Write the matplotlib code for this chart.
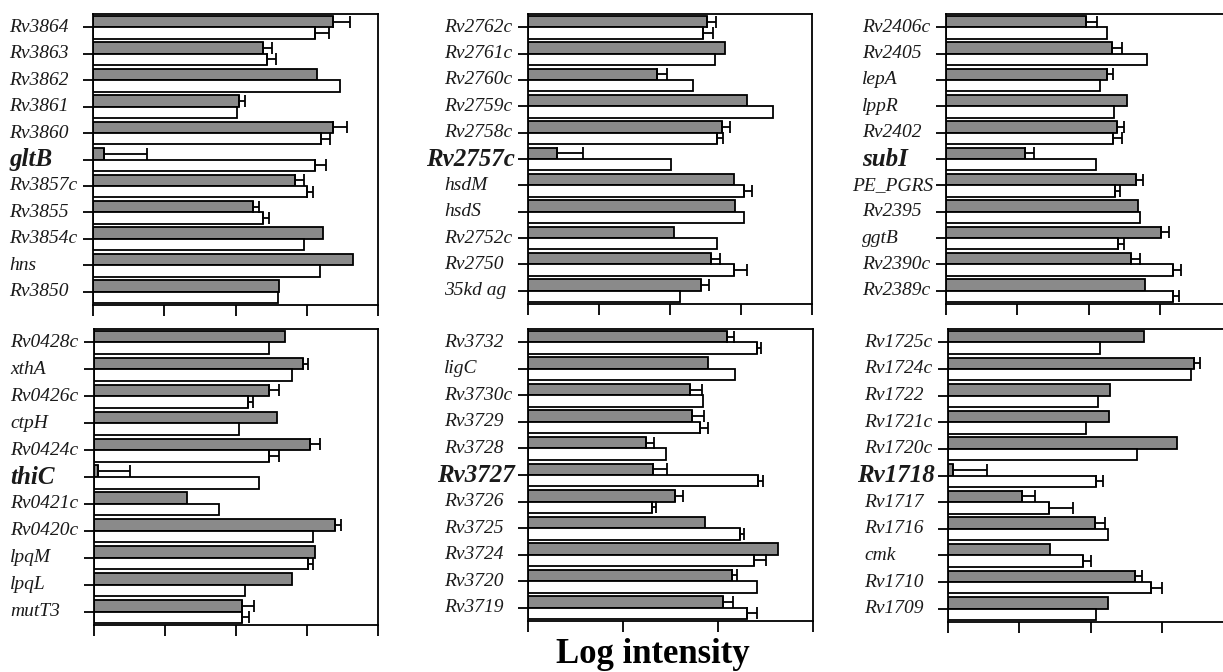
import numpy as np
import matplotlib
matplotlib.use('Agg')
import matplotlib.pyplot as plt
from matplotlib.transforms import offset_copy

# values in units of the x tick spacing
genes_1 = ['Rv3864', 'Rv3863', 'Rv3862', 'Rv3861', 'Rv3860', 'gltB',
           'Rv3857c', 'Rv3855', 'Rv3854c', 'hns', 'Rv3850']
gray_1 = [3.37, 2.38, 3.15, 2.05, 3.37, 0.16, 2.83, 2.25, 3.23, 3.65, 2.61]
gray_err_1 = [0.23, 0.13, 0, 0.08, 0.19, 0.60, 0.13, 0.08, 0, 0, 0]
white_1 = [3.11, 2.44, 3.46, 2.02, 3.20, 3.12, 3.01, 2.39, 2.96, 3.18, 2.60]
white_err_1 = [0.20, 0.13, 0, 0, 0.12, 0.15, 0.08, 0.08, 0, 0, 0]

genes_2 = ['Rv2762c', 'Rv2761c', 'Rv2760c', 'Rv2759c', 'Rv2758c', 'Rv2757c',
           'hsdM', 'hsdS', 'Rv2752c', 'Rv2750', '35kd ag']
gray_2 = [2.52, 2.78, 1.82, 3.08, 2.73, 0.41, 2.90, 2.92, 2.05, 2.58, 2.43]
gray_err_2 = [0.13, 0, 0.14, 0, 0.11, 0.36, 0, 0, 0, 0.13, 0.12]
white_2 = [2.47, 2.63, 2.33, 3.45, 2.66, 2.01, 3.04, 3.04, 2.66, 2.90, 2.14]
white_err_2 = [0.13, 0, 0, 0, 0.08, 0, 0.11, 0, 0, 0.18, 0]

genes_3 = ['Rv2406c', 'Rv2405', 'lepA', 'lppR', 'Rv2402', 'subI',
           'PE_PGRS', 'Rv2395', 'ggtB', 'Rv2390c', 'Rv2389c']
gray_3 = [1.96, 2.33, 2.26, 2.54, 2.40, 1.11, 2.66, 2.69, 3.02, 2.59, 2.79]
gray_err_3 = [0.16, 0.14, 0.08, 0, 0.10, 0.12, 0.11, 0, 0.11, 0.13, 0]
white_3 = [2.26, 2.82, 2.16, 2.36, 2.35, 2.10, 2.37, 2.72, 2.41, 3.18, 3.19]
white_err_3 = [0, 0, 0, 0, 0.12, 0, 0.07, 0, 0.09, 0.12, 0.08]

genes_4 = ['Rv0428c', 'xthA', 'Rv0426c', 'ctpH', 'Rv0424c', 'thiC',
           'Rv0421c', 'Rv0420c', 'lpqM', 'lpqL', 'mutT3']
gray_4 = [2.69, 2.94, 2.46, 2.58, 3.04, 0.06, 1.31, 3.40, 3.11, 2.79, 2.08]
gray_err_4 = [0, 0.07, 0.15, 0, 0.14, 0.45, 0, 0.08, 0, 0, 0.18]
white_4 = [2.47, 2.79, 2.17, 2.04, 2.46, 2.33, 1.76, 3.09, 3.01, 2.13, 2.08]
white_err_4 = [0, 0, 0.07, 0, 0.14, 0, 0, 0, 0.08, 0, 0.10]

genes_5 = ['Rv3732', 'ligC', 'Rv3730c', 'Rv3729', 'Rv3728', 'Rv3727',
           'Rv3726', 'Rv3725', 'Rv3724', 'Rv3720', 'Rv3719']
gray_5 = [2.09, 1.89, 1.71, 1.73, 1.24, 1.32, 1.55, 1.86, 2.63, 2.15, 2.05]
gray_err_5 = [0.08, 0, 0.12, 0.12, 0.09, 0.14, 0.08, 0, 0, 0.05, 0.11]
white_5 = [2.41, 2.18, 1.84, 1.81, 1.45, 2.42, 1.30, 2.23, 2.38, 2.41, 2.30]
white_err_5 = [0.04, 0, 0, 0.08, 0, 0.05, 0.05, 0.04, 0.12, 0, 0.11]

genes_6 = ['Rv1725c', 'Rv1724c', 'Rv1722', 'Rv1721c', 'Rv1720c', 'Rv1718',
           'Rv1717', 'Rv1716', 'cmk', 'Rv1710', 'Rv1709']
gray_6 = [2.75, 3.45, 2.27, 2.26, 3.22, 0.07, 1.04, 2.06, 1.43, 2.63, 2.24]
gray_err_6 = [0, 0.08, 0, 0, 0, 0.48, 0.18, 0.14, 0, 0.09, 0]
white_6 = [2.14, 3.41, 2.10, 1.93, 2.65, 2.08, 1.42, 2.24, 1.89, 2.85, 2.08]
white_err_6 = [0, 0, 0, 0, 0, 0.10, 0.34, 0, 0.12, 0.15, 0]

highlight = ['gltB', 'Rv2757c', 'subI', 'thiC', 'Rv3727', 'Rv1718']
n_ticks = [4, 4, 4, 4, 3, 4]

W, H = 1223, 672
fig = plt.figure(figsize=(W / 100, H / 100), dpi=100)

# (left, right, top, bottom) in pixels
boxes = [(93, 378, 14, 305), (528, 812, 14, 304), (946, 1231, 14, 304),
         (94, 378, 329, 625), (528, 813, 329, 621), (948, 1233, 329, 622)]

panels = [(genes_1, gray_1, gray_err_1, white_1, white_err_1),
          (genes_2, gray_2, gray_err_2, white_2, white_err_2),
          (genes_3, gray_3, gray_err_3, white_3, white_err_3),
          (genes_4, gray_4, gray_err_4, white_4, white_err_4),
          (genes_5, gray_5, gray_err_5, white_5, white_err_5),
          (genes_6, gray_6, gray_err_6, white_6, white_err_6)]

bh = 0.43
lw = 1.3
labels = []
for k, (genes, g, ge, w, we) in enumerate(panels):
    l, r, t, b = boxes[k]
    ax = fig.add_axes([l / W, 1 - b / H, (r - l) / W, (b - t) / H])
    y = np.arange(len(genes))
    ax.barh(y - bh / 2, g, height=bh, color='#8a8a8a', edgecolor='black',
            linewidth=lw, zorder=2)
    ax.barh(y + bh / 2, w, height=bh, color='white', edgecolor='black',
            linewidth=lw, zorder=2)
    for vals, errs, off in [(g, ge, -bh / 2), (w, we, bh / 2)]:
        vals = np.array(vals)
        errs = np.array(errs)
        m = errs > 0
        ax.errorbar(vals[m], y[m] + off, xerr=[np.zeros(m.sum()), errs[m]],
                    fmt='none', ecolor='black', elinewidth=lw, capsize=4,
                    capthick=lw, zorder=3)
    ax.set_xlim(0, n_ticks[k])
    ax.set_ylim(len(genes) - 0.5, -0.5)
    ax.set_xticks(np.arange(n_ticks[k] + 1))
    ax.set_xticklabels([])
    ax.set_yticks(y)
    ax.set_yticklabels([])
    ax.tick_params(axis='x', direction='out', length=8, width=lw)
    ax.tick_params(axis='y', direction='out', length=7, width=lw)
    for sp in ax.spines.values():
        sp.set_linewidth(lw)

    for i, name in enumerate(genes):
        bold = name in highlight
        tr = offset_copy(ax.get_yaxis_transform(), fig=fig, x=-84, units='dots')
        txt = ax.text(0, i, name, transform=tr, ha='left', va='center',
                      family='Liberation Serif', style='italic',
                      weight='bold' if bold else 'normal',
                      fontsize=18 if bold else 14, color='#1a1a1a')
        labels.append((ax, txt))

fig.text(653 / W, 1 - 663 / H, 'Log intensity', ha='center', va='baseline',
         family='Liberation Serif', weight='bold', fontsize=25)

# labels too long for the left-aligned slot get pushed against the axis
fig.canvas.draw()
renderer = fig.canvas.get_renderer()
for ax, txt in labels:
    x_axis = ax.get_window_extent(renderer).x0
    if txt.get_window_extent(renderer).x1 > x_axis - 12:
        txt.set_ha('right')
        txt.set_transform(offset_copy(ax.get_yaxis_transform(), fig=fig,
                                      x=-13, units='dots'))

fig.savefig('out.png', dpi=100)
